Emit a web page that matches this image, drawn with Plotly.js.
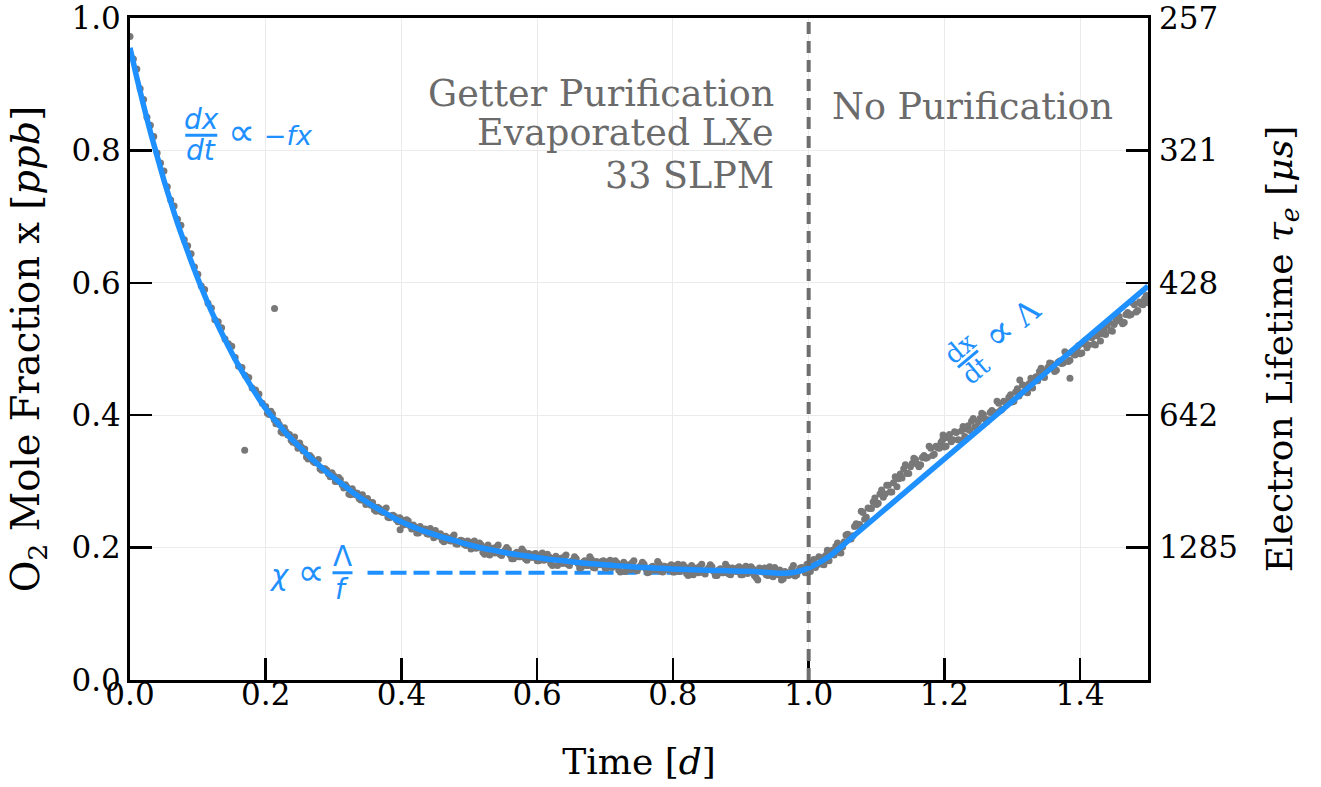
<!DOCTYPE html>
<html><head><meta charset="utf-8">
<script src="https://cdn.plot.ly/plotly-3.0.1.min.js"></script>
<style>html,body{margin:0;padding:0;background:#fff}#chart{width:1321px;height:787px}</style>
</head><body><div id="chart"></div>
<script>
// ---- measured O2 mole fraction (gray points), readout A ----
const timeDays = [
0,0.005,0.01,0.015,0.02,0.025,0.03,0.035,0.04,0.045,
0.05,0.055,0.06,0.065,0.07,0.075,0.08,0.085,0.09,0.095,
0.1,0.105,0.11,0.115,0.12,0.125,0.13,0.135,0.14,0.145,
0.15,0.155,0.16,0.165,0.17,0.175,0.18,0.185,0.19,0.195,
0.2,0.205,0.21,0.215,0.22,0.225,0.23,0.235,0.24,0.245,
0.25,0.255,0.26,0.265,0.27,0.275,0.28,0.285,0.29,0.295,
0.3,0.305,0.31,0.315,0.32,0.325,0.33,0.335,0.34,0.345,
0.35,0.355,0.36,0.365,0.37,0.375,0.38,0.385,0.39,0.395,
0.4,0.405,0.41,0.415,0.42,0.425,0.43,0.435,0.44,0.445,
0.45,0.455,0.46,0.465,0.47,0.475,0.48,0.485,0.49,0.495,
0.5,0.505,0.51,0.515,0.52,0.525,0.53,0.535,0.54,0.545,
0.55,0.555,0.56,0.565,0.57,0.575,0.58,0.585,0.59,0.595,
0.6,0.605,0.61,0.615,0.62,0.625,0.63,0.635,0.64,0.645,
0.65,0.655,0.66,0.665,0.67,0.675,0.68,0.685,0.69,0.695,
0.7,0.705,0.71,0.715,0.72,0.725,0.73,0.735,0.74,0.745,
0.75,0.755,0.76,0.765,0.77,0.775,0.78,0.785,0.79,0.795,
0.8,0.805,0.81,0.815,0.82,0.825,0.83,0.835,0.84,0.845,
0.85,0.855,0.86,0.865,0.87,0.875,0.88,0.885,0.89,0.895,
0.9,0.905,0.91,0.915,0.92,0.925,0.93,0.935,0.94,0.945,
0.95,0.955,0.96,0.965,0.97,0.975,0.98,0.985,0.99,0.995,
1.0,
1.005,1.01,1.015,1.02,1.025,1.03,1.035,1.04,1.045,1.05,
1.055,1.06,1.065,1.07,1.075,1.08,1.085,1.09,1.095,1.1,
1.105,1.11,1.115,1.12,1.125,1.13,1.135,1.14,1.145,1.15,
1.155,1.16,1.165,1.17,1.175,1.18,1.185,1.19,1.195,1.2,
1.205,1.21,1.215,1.22,1.225,1.23,1.235,1.24,1.245,1.25,
1.255,1.26,1.265,1.27,1.275,1.28,1.285,1.29,1.295,1.3,
1.305,1.31,1.315,1.32,1.325,1.33,1.335,1.34,1.345,1.35,
1.355,1.36,1.365,1.37,1.375,1.38,1.385,1.39,1.395,1.4,
1.405,1.41,1.415,1.42,1.425,1.43,1.435,1.44,1.445,1.45,
1.455,1.46,1.465,1.47,1.475,1.48,1.485,1.49,1.495,1.5
];
const o2Fraction = [
0.972,0.938,0.923,0.893,0.877,0.850,0.838,0.821,0.796,0.781,
0.769,0.745,0.725,0.716,0.696,0.687,0.665,0.656,0.644,0.624,
0.613,0.595,0.590,0.569,0.562,0.544,0.541,0.532,0.515,0.508,
0.504,0.487,0.474,0.472,0.460,0.457,0.441,0.438,0.432,0.418,
0.413,0.401,0.402,0.387,0.386,0.373,0.375,0.371,0.359,0.357,
0.358,0.346,0.337,0.339,0.330,0.331,0.319,0.319,0.317,0.307,
0.309,0.300,0.303,0.290,0.291,0.280,0.284,0.282,0.272,0.271,
0.274,0.264,0.257,0.261,0.254,0.257,0.246,0.248,0.247,0.239,
0.242,0.235,0.240,0.228,0.231,0.222,0.228,0.228,0.220,0.221,
0.226,0.217,0.211,0.217,0.211,0.216,0.206,0.210,0.210,0.203,
0.207,0.208,0.199,0.207,0.193,0.200,0.189,0.199,0.201,0.190,
0.193,0.200,0.189,0.183,0.193,0.186,0.194,0.181,0.188,0.190,
0.180,0.189,0.181,0.190,0.176,0.184,0.173,0.184,0.186,0.175,
0.179,0.186,0.176,0.170,0.180,0.173,0.182,0.169,0.176,0.179,
0.169,0.179,0.170,0.180,0.166,0.174,0.164,0.174,0.177,0.167,
0.170,0.178,0.168,0.163,0.172,0.166,0.175,0.163,0.169,0.172,
0.163,0.173,0.164,0.174,0.161,0.169,0.159,0.169,0.172,0.162,
0.166,0.174,0.164,0.158,0.168,0.162,0.171,0.159,0.166,0.169,
0.159,0.169,0.161,0.171,0.158,0.151,0.166,0.169,0.158,0.162,
0.170,0.159,0.151,0.164,0.158,0.168,0.157,0.165,0.170,0.162,
0.174,
0.177,0.170,0.186,0.175,0.188,0.180,0.196,0.202,0.193,0.201,
0.219,0.215,0.218,0.236,0.235,0.253,0.246,0.259,0.269,0.265,
0.281,0.276,0.294,0.284,0.298,0.292,0.311,0.319,0.312,0.322,
0.335,0.326,0.325,0.339,0.336,0.350,0.341,0.351,0.359,0.352,
0.366,0.360,0.375,0.363,0.376,0.368,0.384,0.391,0.382,0.390,
0.403,0.394,0.393,0.407,0.404,0.418,0.409,0.419,0.427,0.420,
0.435,0.429,0.446,0.435,0.448,0.441,0.458,0.466,0.458,0.467,
0.479,0.470,0.468,0.482,0.479,0.493,0.483,0.493,0.500,0.493,
0.508,0.502,0.518,0.507,0.520,0.512,0.529,0.536,0.528,0.537,
0.550,0.542,0.540,0.555,0.552,0.567,0.558,0.568,0.576,0.570
];
// ---- readout B (interleaved samples) ----
const timeDaysB = [
0.2025,0.2075,0.2125,0.2175,0.2225,0.2275,0.2325,0.2375,0.2425,0.2475,
0.2525,0.2575,0.2625,0.2675,0.2725,0.2775,0.2825,0.2875,0.2925,0.2975,
0.3025,0.3075,0.3125,0.3175,0.3225,0.3275,0.3325,0.3375,0.3425,0.3475,
0.3525,0.3575,0.3625,0.3675,0.3725,0.3775,0.3825,0.3875,0.3925,0.3975,
0.4025,0.4075,0.4125,0.4175,0.4225,0.4275,0.4325,0.4375,0.4425,0.4475,
0.4525,0.4575,0.4625,0.4675,0.4725,0.4775,0.4825,0.4875,0.4925,0.4975,
0.5025,0.5075,0.5125,0.5175,0.5225,0.5275,0.5325,0.5375,0.5425,0.5475,
0.5525,0.5575,0.5625,0.5675,0.5725,0.5775,0.5825,0.5875,0.5925,0.5975,
0.6025,0.6075,0.6125,0.6175,0.6225,0.6275,0.6325,0.6375,0.6425,0.6475,
0.6525,0.6575,0.6625,0.6675,0.6725,0.6775,0.6825,0.6875,0.6925,0.6975,
0.7025,0.7075,0.7125,0.7175,0.7225,0.7275,0.7325,0.7375,0.7425,0.7475,
0.7525,0.7575,0.7625,0.7675,0.7725,0.7775,0.7825,0.7875,0.7925,0.7975,
0.8025,0.8075,0.8125,0.8175,0.8225,0.8275,0.8325,0.8375,0.8425,0.8475,
0.8525,0.8575,0.8625,0.8675,0.8725,0.8775,0.8825,0.8875,0.8925,0.8975,
0.9025,0.9075,0.9125,0.9175,0.9225,0.9275,0.9325,0.9375,0.9425,0.9475,
0.9525,0.9575,0.9625,0.9675,0.9725,0.9775,0.9825,0.9875,0.9925,0.9975,
1.0025,1.0075,1.0125,1.0175,1.0225,1.0275,1.0325,1.0375,1.0425,1.0475,
1.0525,1.0575,1.0625,1.0675,1.0725,1.0775,1.0825,1.0875,1.0925,1.0975,
1.1025,1.1075,1.1125,1.1175,1.1225,1.1275,1.1325,1.1375,1.1425,1.1475,
1.1525,1.1575,1.1625,1.1675,1.1725,1.1775,1.1825,1.1875,1.1925,1.1975,
1.2025,1.2075,1.2125,1.2175,1.2225,1.2275,1.2325,1.2375,1.2425,1.2475,
1.2525,1.2575,1.2625,1.2675,1.2725,1.2775,1.2825,1.2875,1.2925,1.2975,
1.3025,1.3075,1.3125,1.3175,1.3225,1.3275,1.3325,1.3375,1.3425,1.3475,
1.3525,1.3575,1.3625,1.3675,1.3725,1.3775,1.3825,1.3875,1.3925,1.3975,
1.4025,1.4075,1.4125,1.4175,1.4225,1.4275,1.4325,1.4375,1.4425,1.4475,
1.4525,1.4575,1.4625,1.4675,1.4725,1.4775,1.4825,1.4875,1.4925,1.4975
];
const o2FractionB = [
0.403,0.406,0.393,0.391,0.375,0.381,0.370,0.362,0.367,0.350,
0.352,0.349,0.334,0.336,0.328,0.333,0.317,0.319,0.311,0.313,
0.300,0.306,0.295,0.295,0.281,0.289,0.280,0.274,0.280,0.265,
0.269,0.268,0.255,0.259,0.253,0.260,0.245,0.249,0.242,0.245,
0.234,0.242,0.233,0.234,0.222,0.232,0.225,0.221,0.229,0.215,
0.221,0.221,0.209,0.215,0.210,0.219,0.205,0.211,0.205,0.210,
0.198,0.210,0.200,0.204,0.190,0.204,0.197,0.192,0.204,0.188,
0.196,0.197,0.183,0.191,0.186,0.198,0.183,0.191,0.185,0.191,
0.180,0.192,0.182,0.186,0.173,0.187,0.181,0.176,0.189,0.173,
0.181,0.183,0.169,0.178,0.173,0.186,0.170,0.179,0.174,0.180,
0.169,0.181,0.172,0.177,0.163,0.178,0.172,0.167,0.180,0.165,
0.173,0.175,0.162,0.170,0.166,0.179,0.164,0.172,0.167,0.174,
0.163,0.175,0.166,0.171,0.158,0.173,0.166,0.162,0.175,0.160,
0.169,0.171,0.158,0.166,0.162,0.175,0.160,0.169,0.164,0.171,
0.159,0.172,0.163,0.168,0.155,0.169,0.163,0.159,0.171,0.156,
0.165,0.166,0.153,0.162,0.159,0.173,0.159,0.169,0.166,0.175,
0.164,0.182,0.174,0.185,0.174,0.196,0.191,0.189,0.207,0.192,
0.209,0.220,0.213,0.232,0.233,0.255,0.243,0.260,0.259,0.275,
0.267,0.287,0.281,0.294,0.284,0.307,0.304,0.305,0.325,0.312,
0.327,0.333,0.322,0.336,0.335,0.353,0.339,0.353,0.350,0.363,
0.353,0.371,0.363,0.374,0.362,0.383,0.379,0.377,0.395,0.381,
0.395,0.401,0.390,0.404,0.403,0.421,0.407,0.421,0.418,0.431,
0.421,0.440,0.434,0.445,0.434,0.456,0.452,0.452,0.471,0.457,
0.472,0.478,0.466,0.480,0.478,0.496,0.481,0.495,0.491,0.505,
0.494,0.513,0.506,0.517,0.506,0.528,0.523,0.522,0.541,0.527,
0.542,0.549,0.538,0.552,0.551,0.570,0.556,0.571,0.567,0.581
];
const outlierTime = [0.169, 0.213, 0.398, 1.198, 1.311, 1.385];
const outlierFraction = [0.347, 0.561, 0.227, 0.370, 0.453, 0.456];

// ---- model curve (blue) ----
const fitTime = [0,0.01,0.02,0.03,0.04,0.05,0.06,0.07,0.08,0.09,0.10,0.11,0.12,0.13,0.14,0.15,0.16,0.17,0.18,0.19,
0.20,0.21,0.22,0.23,0.24,0.25,0.26,0.27,0.28,0.29,0.30,0.31,0.32,0.33,0.34,0.35,0.36,0.37,0.38,0.39,0.40,
0.42,0.44,0.46,0.48,0.50,0.52,0.54,0.56,0.58,0.60,0.62,0.64,0.66,0.68,0.70,0.72,0.74,0.76,0.78,0.80,
0.82,0.84,0.86,0.88,0.90,0.92,0.94,0.96,0.97,0.98,0.99,1.00,1.01,1.02,1.03,1.04,1.05,1.06,1.07,1.10,1.20,1.30,1.40,1.50];
const fitFraction = [0.955,0.910,0.868,0.828,0.791,0.755,0.722,0.690,0.661,0.633,0.606,0.581,0.557,0.535,0.514,0.494,0.475,0.458,0.441,0.425,
0.410,0.397,0.385,0.373,0.362,0.352,0.342,0.332,0.323,0.314,0.306,0.298,0.290,0.282,0.275,0.268,0.262,0.256,0.250,0.244,0.239,
0.230,0.2225,0.216,0.210,0.204,0.199,0.195,0.191,0.188,0.185,0.182,0.180,0.1775,0.1756,0.174,0.1724,0.171,0.1698,0.1688,0.1678,
0.167,0.1662,0.1655,0.165,0.1644,0.1638,0.1625,0.1612,0.1615,0.163,0.1655,0.1695,0.1745,0.180,0.1865,0.1945,0.203,0.212,0.221,0.247,0.334,0.421,0.508,0.595];
const asymptoteTime = [0.35, 0.98];
const asymptoteFraction = [0.162, 0.162];
const phaseBoundary = 1.0;

// ---- ticks ----
const xTickVals = [0, 0.2, 0.4, 0.6, 0.8, 1.0, 1.2, 1.4];
const yTickVals = [0, 0.2, 0.4, 0.6, 0.8, 1.0];
const lifetimeTickVals = [0.2, 0.4, 0.6, 0.8, 1.0];
const lifetimeTickText = ['1285', '642', '428', '321', '257'];

const serif = 'DejaVu Serif';
const sans = 'DejaVu Sans';
const blue = '#1e90ff';
const grayPts = '#787878';
const grayTxt = '#6b6b6b';

const dot = {color: grayPts, size: 7, line: {width: 0}};
const traces = [
  {x: asymptoteTime, y: asymptoteFraction, mode: 'lines', line: {color: blue, width: 4, dash: '16px,7px'}, hoverinfo: 'skip', showlegend: false},
  {x: timeDays, y: o2Fraction, mode: 'markers', marker: dot, showlegend: false},
  {x: timeDaysB, y: o2FractionB, mode: 'markers', marker: dot, showlegend: false},
  {x: outlierTime, y: outlierFraction, mode: 'markers', marker: dot, showlegend: false},
  {x: fitTime, y: fitFraction, mode: 'lines', line: {color: blue, width: 5.5, shape: 'spline', smoothing: 0.5}, showlegend: false},
  {x: [null], y: [null], yaxis: 'y2', mode: 'markers', showlegend: false, hoverinfo: 'skip'}
];

function ann(x, y, text, o) {
  return Object.assign({x: x, y: y, xref: 'x', yref: 'y', text: text, showarrow: false,
    xanchor: 'center', yanchor: 'middle'}, o);
}
const a1 = [0.105, 0.823];
const a2 = [0.3131, 0.162];
const a3 = [1.2347, 0.4849];
const fBlueSans = (s) => ({family: sans, size: s, color: blue});
const fBlueSerif = (s) => ({family: serif, size: s, color: blue});
const fGray = (s) => ({family: serif, size: s, color: grayTxt});
const prop = (s) => '<span style="font-size:' + s + 'px">∝</span>';

const annotations = [
  ann(a1[0], a1[1], '<i>dx</i>', {font: fBlueSans(28), yshift: 16}),
  ann(a1[0], a1[1], '<i>dt</i>', {font: fBlueSans(28), yshift: -15}),
  ann(a1[0], a1[1], prop(38) + ' −<i>fx</i>', {font: fBlueSans(27), xanchor: 'left', xshift: 25, yshift: 3}),
  ann(a2[0], a2[1], 'Λ', {font: fBlueSans(28), yshift: 16}),
  ann(a2[0], a2[1], '<i>f</i>', {font: fBlueSans(28), yshift: -17}),
  ann(a2[0], a2[1], '<i>χ</i> ' + prop(38), {font: fBlueSans(29), xanchor: 'right', xshift: -15, yshift: 1}),
  ann(a3[0], a3[1], 'dx', {font: fBlueSerif(26), textangle: -40, xshift: -8, yshift: 11}),
  ann(a3[0], a3[1], 'dt', {font: fBlueSerif(26), textangle: -40, xshift: 8, yshift: -11}),
  ann(a3[0], a3[1], prop(40) + ' Λ', {font: fBlueSerif(31), textangle: -40, xshift: 43, yshift: 37}),
  ann(0.952, 0.8867, 'Getter Purification', {font: fGray(36.5), xanchor: 'right'}),
  ann(0.952, 0.8263, 'Evaporated LXe', {font: fGray(36.5), xanchor: 'right'}),
  ann(0.952, 0.7628, '33 SLPM', {font: fGray(36.5), xanchor: 'right'}),
  ann(1.0358, 0.867, 'No Purification', {font: fGray(36.5), xanchor: 'left', xshift: -3})
];

function bar(anchor, x0, y0, x1, y1) {
  return {type: 'line', xref: 'x', yref: 'y', xsizemode: 'pixel', ysizemode: 'pixel',
    xanchor: anchor[0], yanchor: anchor[1], x0: x0, y0: y0, x1: x1, y1: y1,
    line: {color: blue, width: 3}};
}
const shapes = [
  {type: 'line', xref: 'x', yref: 'paper', x0: phaseBoundary, x1: phaseBoundary, y0: 0, y1: 1,
   line: {color: '#6e6e6e', width: 4, dash: '12px,7px'}, layer: 'above'},
  bar(a1, -16, 0, 16, 0),
  bar(a2, -10, 0, 10, 0),
  bar(a3, -10, -8.4, 10, 8.4)
];

const axisCommon = {
  ticks: 'inside', ticklen: 22, tickwidth: 2.5, tickcolor: '#000',
  showline: true, linewidth: 3, linecolor: '#000', zeroline: false,
  ticklabeloverflow: 'allow',
  tickfont: {family: serif, size: 31, color: '#000'}
};

const layout = {
  width: 1321, height: 787,
  margin: {l: 130, r: 173, t: 18, b: 107},
  paper_bgcolor: '#fff', plot_bgcolor: '#fff',
  font: {family: serif, color: '#000'},
  xaxis: Object.assign({}, axisCommon, {
    range: [0, 1.5], tickvals: xTickVals, tickformat: '.1f', mirror: true,
    showgrid: true, gridcolor: '#ebebeb', gridwidth: 1, ticklabelstandoff: -15,
    title: {text: 'Time [<i>d</i>]', font: {family: serif, size: 36, color: '#000'}, standoff: 38}
  }),
  yaxis: Object.assign({}, axisCommon, {
    range: [0, 1], tickvals: yTickVals, tickformat: '.1f', mirror: true,
    showgrid: true, gridcolor: '#ebebeb', gridwidth: 1,
    title: {text: 'O<sub>2</sub> Mole Fraction x [<i>ppb</i>]', font: {family: serif, size: 38.5, color: '#000'}, standoff: 21}
  }),
  yaxis2: Object.assign({}, axisCommon, {
    overlaying: 'y', side: 'right', range: [0, 1], tickvals: lifetimeTickVals, ticktext: lifetimeTickText,
    showgrid: false, showline: false, ticklabelstandoff: 10,
    title: {text: 'Electron Lifetime <i>τ<sub>e</sub></i> [<i>μs</i>]', font: {family: serif, size: 36, color: '#000'}, standoff: 29}
  }),
  annotations: annotations,
  shapes: shapes,
  showlegend: false
};

Plotly.newPlot('chart', traces, layout, {staticPlot: true, displayModeBar: false});
</script>
</body></html>
